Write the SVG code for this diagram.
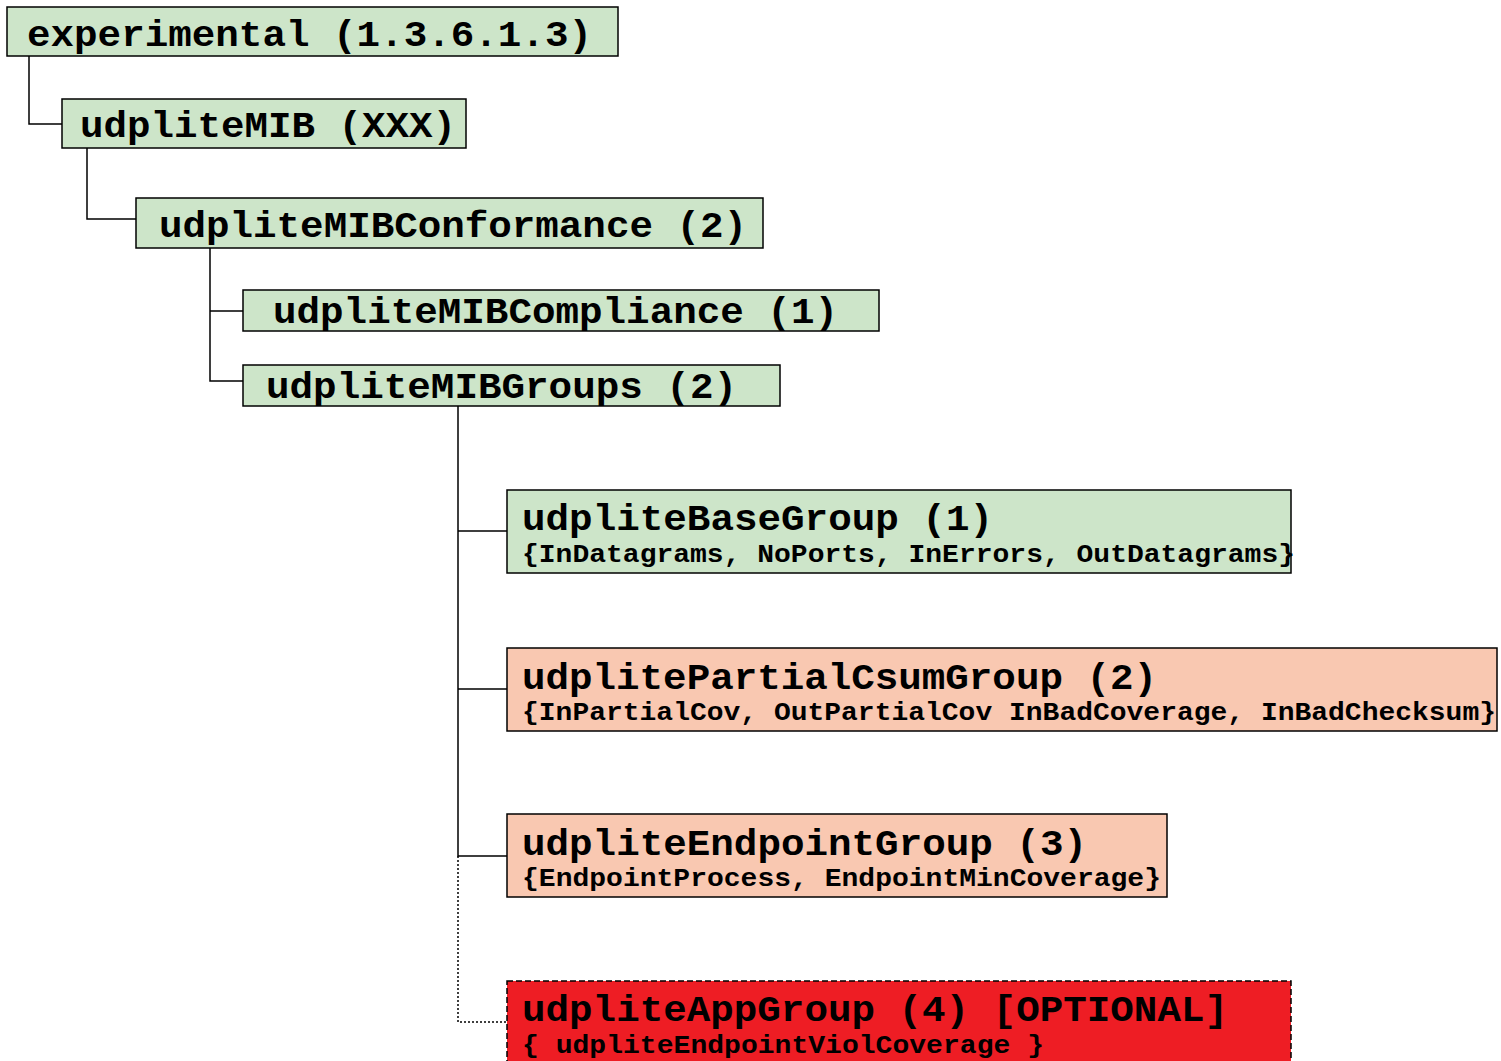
<svg xmlns="http://www.w3.org/2000/svg" width="1501" height="1061" viewBox="0 0 1501 1061">
<style>
.box{stroke:#000;stroke-width:1.5}
.g{fill:#cde5c9}
.s{fill:#f9c8b1}
.r{fill:#ee1d24;stroke-dasharray:6 3}
.t{font-family:"Liberation Mono","Courier New",monospace;font-weight:bold;font-size:37px;fill:#000}
.st{font-family:"Liberation Mono","Courier New",monospace;font-weight:bold;font-size:26px;fill:#000}
.c{fill:none;stroke:#000;stroke-width:1.5}
.d{stroke-dasharray:2 2}
</style>
<rect width="1501" height="1061" fill="#fff"/>
<g id="connectors">
<path class="c" d="M29 56V124H62"/>
<path class="c" d="M87 148V219H136"/>
<path class="c" d="M210 248V381H243M210 311H243"/>
<path class="c" d="M458 406V856H507M458 531H507M458 689H507"/>
<path class="c d" d="M458 856V1022H507"/>
</g>
<g id="experimental">
<rect class="box g" x="7" y="7" width="611" height="49"/>
<text class="t" x="27" y="46" textLength="565" lengthAdjust="spacingAndGlyphs">experimental (1.3.6.1.3)</text>
</g>
<g id="udpliteMIB">
<rect class="box g" x="62" y="99" width="404" height="49"/>
<text class="t" x="80" y="137" textLength="376" lengthAdjust="spacingAndGlyphs">udpliteMIB (XXX)</text>
</g>
<g id="udpliteMIBConformance">
<rect class="box g" x="136" y="198" width="627" height="50"/>
<text class="t" x="159" y="237" textLength="588" lengthAdjust="spacingAndGlyphs">udpliteMIBConformance (2)</text>
</g>
<g id="udpliteMIBCompliance">
<rect class="box g" x="243" y="290" width="636" height="41"/>
<text class="t" x="273" y="323" textLength="565" lengthAdjust="spacingAndGlyphs">udpliteMIBCompliance (1)</text>
</g>
<g id="udpliteMIBGroups">
<rect class="box g" x="243" y="365" width="537" height="41"/>
<text class="t" x="266" y="398" textLength="471" lengthAdjust="spacingAndGlyphs">udpliteMIBGroups (2)</text>
</g>
<g id="udpliteBaseGroup">
<rect class="box g" x="507" y="490" width="784" height="83"/>
<text class="t" x="522" y="530" textLength="471" lengthAdjust="spacingAndGlyphs">udpliteBaseGroup (1)</text>
<text class="st" x="522" y="562" textLength="773" lengthAdjust="spacingAndGlyphs">{InDatagrams, NoPorts, InErrors, OutDatagrams}</text>
</g>
<g id="udplitePartialCsumGroup">
<rect class="box s" x="507" y="648" width="990" height="83"/>
<text class="t" x="522" y="689" textLength="635" lengthAdjust="spacingAndGlyphs">udplitePartialCsumGroup (2)</text>
<text class="st" x="522" y="720" textLength="974" lengthAdjust="spacingAndGlyphs">{InPartialCov, OutPartialCov InBadCoverage, InBadChecksum}</text>
</g>
<g id="udpliteEndpointGroup">
<rect class="box s" x="507" y="814" width="660" height="83"/>
<text class="t" x="522" y="855" textLength="565" lengthAdjust="spacingAndGlyphs">udpliteEndpointGroup (3)</text>
<text class="st" x="522" y="886" textLength="639" lengthAdjust="spacingAndGlyphs">{EndpointProcess, EndpointMinCoverage}</text>
</g>
<g id="udpliteAppGroup">
<rect class="box r" x="507" y="981" width="784" height="100"/>
<text class="t" x="522" y="1021" textLength="706" lengthAdjust="spacingAndGlyphs">udpliteAppGroup (4) [OPTIONAL]</text>
<text class="st" x="522" y="1053" textLength="522" lengthAdjust="spacingAndGlyphs">{ udpliteEndpointViolCoverage }</text>
</g>
</svg>
